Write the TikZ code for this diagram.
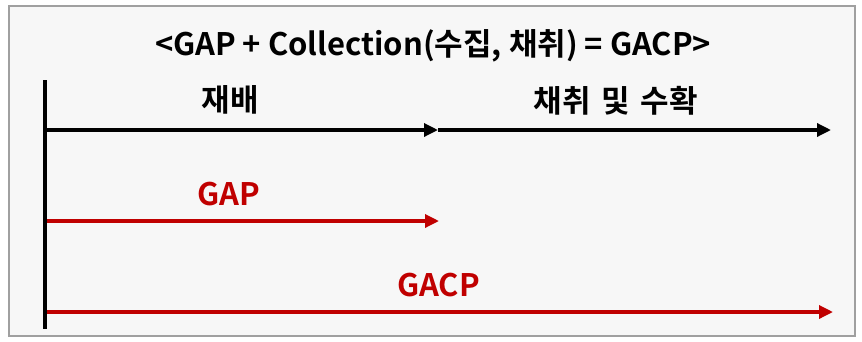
\documentclass[tikz,border=0pt]{standalone}
\usepackage{fontspec}
\setmainfont{Noto Sans CJK KR}[BoldFont={* Bold}]
\newfontfamily\kr{Noto Sans CJK KR Bold}
\usetikzlibrary{arrows.meta}
\definecolor{bgc}{HTML}{F7F7F7}
\definecolor{framec}{HTML}{A0A0A0}
\definecolor{redc}{HTML}{C00000}
\tikzset{
  lbl/.style={font=\kr\fontsize{31}{33}\selectfont, inner sep=0pt},
  blackarr/.style={line width=3.3pt, black, -{Triangle[length=14pt,width=13pt]}},
  redarr/.style={line width=3.3pt, redc, -{Triangle[length=14pt,width=13pt]}},
}
\begin{document}
\begin{tikzpicture}[x=1pt,y=-1pt]
\useasboundingbox (0,0) rectangle (862,341);
\fill[white] (0,0) rectangle (862,341);
\draw[framec, fill=bgc, line width=1.5pt] (9,6) rectangle (855,336);
\node[lbl, anchor=base] (title) at (433,55) {<GAP + Collection(수집, 채취) = GACP>};
\node[lbl] (t1) at (230,100) {재배};
\node[lbl] (t2) at (616,101) {채취\hspace{0.12em} 및\hspace{0.12em} 수확};
\node[lbl, anchor=base, text=redc] (t3) at (228.5,205) {GAP};
\node[lbl, anchor=base, text=redc] (t4) at (438.5,296) {GACP};
\coordinate (vtop) at (45,80);
\coordinate (vbot) at (45,329);
\coordinate (a0) at (45,130);
\coordinate (a1) at (438,130);
\coordinate (a2) at (831,130);
\coordinate (r0) at (45,221);
\coordinate (r1) at (439,221);
\coordinate (g0) at (45,312);
\coordinate (g1) at (833,312);
\draw[redarr] (r0) -- (r1);
\draw[redarr] (g0) -- (g1);
\draw[blackarr] (a0) -- (a1);
\draw[blackarr] (a1) -- (a2);
\draw[line width=3.5pt, black] (vtop) -- (vbot);
\end{tikzpicture}
\end{document}
